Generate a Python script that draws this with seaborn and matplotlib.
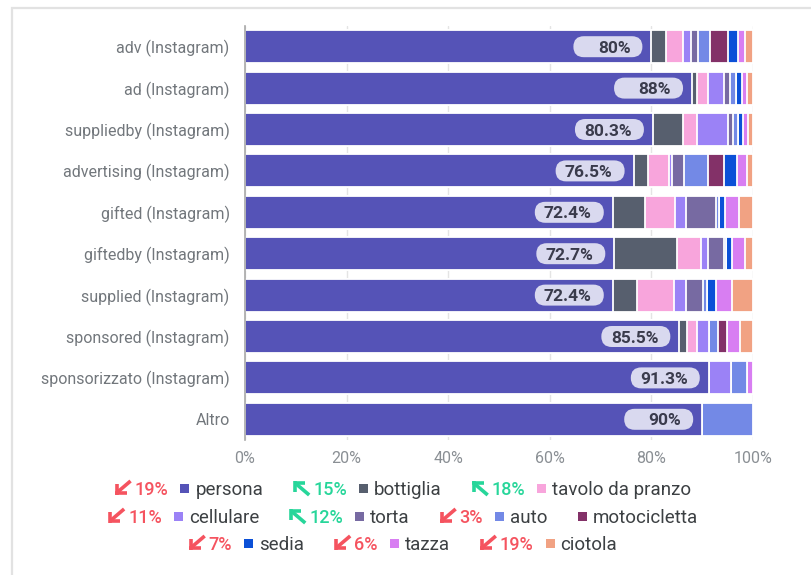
import pandas as pd
import matplotlib.pyplot as plt
import seaborn as sns
from matplotlib.patches import FancyBboxPatch, Rectangle
from matplotlib.lines import Line2D
from matplotlib.transforms import IdentityTransform

# Data (share of each object, %)
rows = ["adv (Instagram)", "ad (Instagram)", "suppliedby (Instagram)",
        "advertising (Instagram)", "gifted (Instagram)", "giftedby (Instagram)",
        "supplied (Instagram)", "sponsored (Instagram)",
        "sponsorizzato (Instagram)", "Altro"]
categories = ["persona", "bottiglia", "tavolo da pranzo", "cellulare", "torta",
              "auto", "motocicletta", "sedia", "tazza", "ciotola"]
colors = ["#5553b7", "#575f6e", "#f8a5dc", "#9b82f6", "#776aa2",
          "#7389e6", "#833168", "#0b50d7", "#d87ef2", "#f1a283"]

persona = [80, 88, 80.3, 76.5, 72.4, 72.7, 72.4, 85.5, 91.3, 90]
bottiglia = [2.8, 0.9, 5.9, 2.9, 6.3, 12.4, 4.8, 1.6, 0, 0]
tavolo = [3.5, 2.3, 2.8, 4.1, 6.0, 4.6, 7.3, 1.8, 0, 0]
cellulare = [1.5, 3.0, 6.0, 0.6, 2.2, 1.5, 2.4, 2.5, 4.3, 0]
torta = [1.4, 1.2, 1.1, 2.3, 5.9, 3.1, 3.3, 0, 0, 0]
auto = [2.3, 1.3, 0.9, 4.8, 0.6, 0.4, 0.7, 1.7, 3.2, 10]
moto = [3.6, 0, 0, 3.0, 0, 0, 0, 1.7, 0, 0]
sedia = [2.0, 1.2, 1.0, 2.7, 1.0, 1.1, 1.8, 0, 0, 0]
tazza = [1.3, 0.9, 1.0, 2.0, 2.8, 2.7, 3.2, 2.6, 1.2, 0]
ciotola = [1.6, 1.2, 1.0, 1.1, 2.8, 1.5, 4.1, 2.6, 0, 0]

# legend deltas
deltas = ["19%", "15%", "18%", "11%", "12%", "3%", "", "7%", "6%", "19%"]
trends = ["down", "up", "up", "down", "up", "down", "", "down", "down", "down"]
legend_rows = [[0, 1, 2], [3, 4, 5, 6], [7, 8, 9]]

df = pd.DataFrame({"label": rows})
for cat, vals in zip(categories, [persona, bottiglia, tavolo, cellulare, torta,
                                  auto, moto, sedia, tazza, ciotola]):
    df[cat] = vals
cum = df[categories].cumsum(axis=1)

sns.set_theme(style="white")
plt.rcParams["font.family"] = ["Roboto", "DejaVu Sans"]

W, H = 811, 575
fig = plt.figure(figsize=(W / 100, H / 100), dpi=100)
ax = fig.add_axes([245 / W, (H - 440) / H, 508 / W, 414 / H])

# card outline
fig.patches.append(Rectangle((12 / W, -0.1), 1.2, (H - 8) / H + 0.1,
                             transform=fig.transFigure, fill=False,
                             edgecolor="#e2e2e2", lw=1.6, zorder=0))

# stacked bars: draw cumulative totals from the last category back to the first
for cat, col in reversed(list(zip(categories, colors))):
    sns.barplot(x=cum[cat].values, y=df["label"].values, color=col, saturation=1,
                orient="h", width=0.8, edgecolor="white", linewidth=1.3, ax=ax)

ax.set_xlim(0, 100)
ax.set_xticks(range(0, 101, 20))
ax.set_xticklabels([f"{t}%" for t in range(0, 101, 20)])
ax.set_xlabel("")
ax.set_ylabel("")
ax.set_axisbelow(True)
ax.xaxis.grid(True, color="#e4e4e4", lw=1)
ax.yaxis.grid(False)
for s in ["top", "right", "bottom"]:
    ax.spines[s].set_visible(False)
ax.spines["left"].set_color("#a8a8a8")
ax.spines["left"].set_linewidth(1.2)
ax.tick_params(axis="y", length=0, pad=11, labelsize=11.5, labelcolor="#72777c")
ax.tick_params(axis="x", length=0, pad=8, labelsize=11.5, labelcolor="#8a8f94")

# value pills on the persona segment
fig.canvas.draw()
p0 = ax.transData.transform((0, 0))
p1 = ax.transData.transform((1, 1))
px_x = abs(p1[0] - p0[0])
px_y = abs(p1[1] - p0[1])
pill_w, pill_h = 69 / px_x, 21 / px_y
for i, v in enumerate(persona):
    right = v - 9 / px_x
    ax.add_patch(FancyBboxPatch((right - pill_w, i - pill_h / 2), pill_w, pill_h,
                                boxstyle=f"round,pad=0,rounding_size={10.5 / px_x}",
                                mutation_aspect=px_x / px_y,
                                facecolor="#d9d9ef", edgecolor="none", zorder=3))
    ax.text(right - 12 / px_x, i, f"{v:g}%", ha="right", va="center_baseline",
            fontsize=12.5, fontweight="bold", color="#3a3b4c", zorder=4)

# custom legend with trend arrows
renderer = fig.canvas.get_renderer()


def text_width(s, **kw):
    t = fig.text(0, 0, s, **kw)
    w = t.get_window_extent(renderer).width
    t.remove()
    return w


name_kw = dict(fontsize=13.5, color="#3c4043")
pct_kw = dict(fontsize=13, fontweight="medium")
arrow_w, sq = 16, 9
row_y = [488, 516, 543]
center_x = 403


def draw_arrow(x, yc, direction, color):
    top, bot = H - (yc - 7), H - (yc + 7)
    lw = 2.6
    if direction == "down":
        pts = [([x + arrow_w, x + 2.5], [top, bot + 2.5]),
               ([x + 2, x + 2], [bot + 11, bot]),
               ([x + 0.5, x + 12], [bot + 1.8, bot + 1.8])]
    else:
        pts = [([x + arrow_w, x + 2.5], [bot, top - 2.5]),
               ([x + 2, x + 2], [top - 11, top]),
               ([x + 0.5, x + 12], [top - 1.8, top - 1.8])]
    for xs, ys in pts:
        fig.add_artist(Line2D(xs, ys, transform=IdentityTransform(), color=color,
                              lw=lw, solid_capstyle="butt"))


for r, idxs in enumerate(legend_rows):
    items = []
    for k in idxs:
        parts = []
        if deltas[k]:
            parts.append(arrow_w + 4 + text_width(deltas[k], **pct_kw) + 12)
        else:
            parts.append(0)
        parts.append(sq + 6 + text_width(categories[k], **name_kw))
        items.append((k, parts))
    total = sum(sum(p) for _, p in items) + 30 * (len(items) - 1)
    x = center_x - total / 2
    yc = row_y[r]
    for k, parts in items:
        if deltas[k]:
            col = "#f5535f" if trends[k] == "down" else "#27d69a"
            draw_arrow(x, yc, trends[k], col)
            fig.text((x + arrow_w + 4) / W, (H - yc) / H, deltas[k], color=col,
                     ha="left", va="center_baseline", **pct_kw)
        x += parts[0]
        fig.patches.append(Rectangle(((x) / W, (H - yc - sq / 2) / H), sq / W, sq / H,
                                     transform=fig.transFigure, facecolor=colors[k],
                                     edgecolor="none"))
        fig.text((x + sq + 6) / W, (H - yc) / H, categories[k], ha="left",
                 va="center_baseline", **name_kw)
        x += parts[1] + 30

fig.savefig("out.png", dpi=100)
